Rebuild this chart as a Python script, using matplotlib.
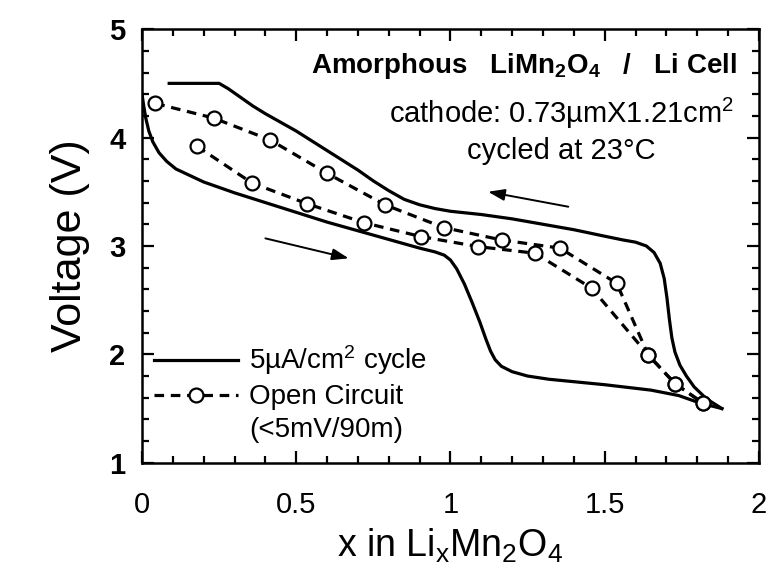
"""Amorphous LiMn2O4 / Li cell: galvanostatic cycle vs open-circuit voltage."""

import matplotlib
matplotlib.use("Agg")
import matplotlib.pyplot as plt
from matplotlib.lines import Line2D
from matplotlib.ticker import MultipleLocator

plt.rcParams["font.family"] = ["Liberation Sans", "DejaVu Sans"]
plt.rcParams["mathtext.fontset"] = "custom"
plt.rcParams["mathtext.rm"] = "Liberation Sans"
plt.rcParams["mathtext.it"] = "Liberation Sans"
plt.rcParams["mathtext.bf"] = "Liberation Sans:bold"

# 5 uA/cm2 cycle, charge branch (upper curve)
charge_x = [0.088, 0.25, 0.28, 0.32, 0.36, 0.40, 0.45, 0.50, 0.55, 0.60, 0.65,
            0.70, 0.75, 0.80, 0.85, 0.90, 0.95, 1.00, 1.10, 1.20, 1.30, 1.40,
            1.50, 1.56, 1.60, 1.635, 1.66, 1.68, 1.693, 1.702, 1.710, 1.718,
            1.728, 1.744, 1.765, 1.79, 1.83, 1.88]
charge_v = [4.50, 4.50, 4.45, 4.37, 4.29, 4.22, 4.14, 4.06, 3.97, 3.88, 3.79,
            3.70, 3.60, 3.51, 3.43, 3.38, 3.345, 3.32, 3.29, 3.25, 3.20, 3.15,
            3.09, 3.055, 3.035, 3.00, 2.94, 2.84, 2.70, 2.52, 2.32, 2.15,
            2.02, 1.90, 1.80, 1.70, 1.59, 1.50]

# 5 uA/cm2 cycle, discharge branch (lower curve)
discharge_x = [0.0, 0.005, 0.012, 0.022, 0.035, 0.055, 0.08, 0.11, 0.2, 0.3,
               0.4, 0.5, 0.6, 0.7, 0.8, 0.9, 0.95, 0.98, 1.00, 1.02, 1.045,
               1.07, 1.095, 1.115, 1.13, 1.145, 1.165, 1.20, 1.25, 1.32, 1.5,
               1.65, 1.74, 1.81, 1.88]
discharge_v = [4.40, 4.30, 4.18, 4.06, 3.96, 3.86, 3.78, 3.71, 3.59, 3.49,
               3.40, 3.31, 3.22, 3.14, 3.06, 2.98, 2.945, 2.915, 2.87, 2.79, 2.65,
               2.48, 2.30, 2.14, 2.03, 1.95, 1.89, 1.84, 1.80, 1.77, 1.72,
               1.67, 1.62, 1.55, 1.50]

# open-circuit points
oc_dis_x = [0.178, 0.357, 0.535, 0.719, 0.905, 1.09, 1.274, 1.458, 1.641, 1.728, 1.819]
oc_dis_v = [3.92, 3.58, 3.39, 3.215, 3.086, 2.994, 2.933, 2.61, 1.995, 1.73, 1.55]
oc_chg_x = [0.043, 0.232, 0.416, 0.60, 0.789, 0.978, 1.166, 1.355, 1.539, 1.641, 1.728, 1.819]
oc_chg_v = [4.315, 4.18, 3.977, 3.67, 3.378, 3.17, 3.055, 2.98, 2.656, 1.995, 1.73, 1.55]

fig = plt.figure(figsize=(7.72, 5.72), dpi=100)
ax = fig.add_axes([0.184, 0.191, 0.799, 0.758])

line_kw = dict(color="black", lw=2.3)
oc_kw = dict(color="black", lw=2.3, dashes=(3.0, 2.1), marker="o", ms=10,
             mfc="white", mec="black", mew=1.6)

ax.plot(charge_x, charge_v, **line_kw)
ax.plot(discharge_x, discharge_v, **line_kw)
ax.plot(oc_chg_x, oc_chg_v, **oc_kw)
ax.plot(oc_dis_x, oc_dis_v, **oc_kw)

# direction arrows
arrow = dict(arrowstyle="-|>,head_length=1.0,head_width=0.35", lw=1.4, color="black",
             shrinkA=0, shrinkB=0)
ax.annotate("", xy=(1.122, 3.50), xytext=(1.382, 3.362), arrowprops=arrow)
ax.annotate("", xy=(0.67, 2.886), xytext=(0.40, 3.07), arrowprops=arrow)

ax.set_xlim(0, 2)
ax.set_ylim(1, 5)
ax.xaxis.set_major_locator(MultipleLocator(0.5))
ax.xaxis.set_minor_locator(MultipleLocator(0.1))
ax.yaxis.set_major_locator(MultipleLocator(1))
ax.yaxis.set_minor_locator(MultipleLocator(0.2))
ax.xaxis.set_major_formatter(plt.FuncFormatter(lambda v, p: f"{v:g}"))

ax.tick_params(which="both", direction="in", top=True, right=True, width=1.6)
ax.tick_params(which="major", length=8.5)
ax.tick_params(which="minor", length=5)
ax.tick_params(axis="x", which="major", labelsize=21, pad=20)
ax.tick_params(axis="y", which="major", labelsize=21, pad=12)
for lab in ax.get_yticklabels():
    lab.set_fontweight("bold")
for sp in ax.spines.values():
    sp.set_linewidth(1.8)

ax.set_xlabel(r"x in Li$_\mathregular{x}$Mn$_\mathregular{2}$O$_\mathregular{4}$",
              fontsize=27, labelpad=6)
ax.set_ylabel("Voltage (V)", fontsize=31, labelpad=14)

ax.text(1.93, 4.66, r"Amorphous   LiMn$_\mathbf{2}$O$_\mathbf{4}$   /   Li Cell",
        fontsize=20, fontweight="bold", ha="right", va="center")
ax.text(1.36, 4.22, "cathode: 0.73\u00b5mX1.21cm$^\\mathregular{2}$",
        fontsize=21, ha="center", va="center")
ax.text(1.36, 3.875, "cycled at 23\u00b0C", fontsize=21, ha="center", va="center")

handles = [
    Line2D([], [], **line_kw),
    Line2D([], [], **oc_kw),
    Line2D([], [], linestyle="none"),
]
labels = ["5\u00b5A/cm$^\\mathregular{2}$ cycle", "Open Circuit", "(<5mV/90m)"]
ax.legend(handles, labels, loc="lower left", bbox_to_anchor=(0.02, 0.045),
          frameon=False, fontsize=20, handlelength=3.0, handletextpad=0.4,
          labelspacing=0.25, numpoints=1, borderpad=0, borderaxespad=0)

fig.savefig("out.png", dpi=100)
plt.close(fig)
